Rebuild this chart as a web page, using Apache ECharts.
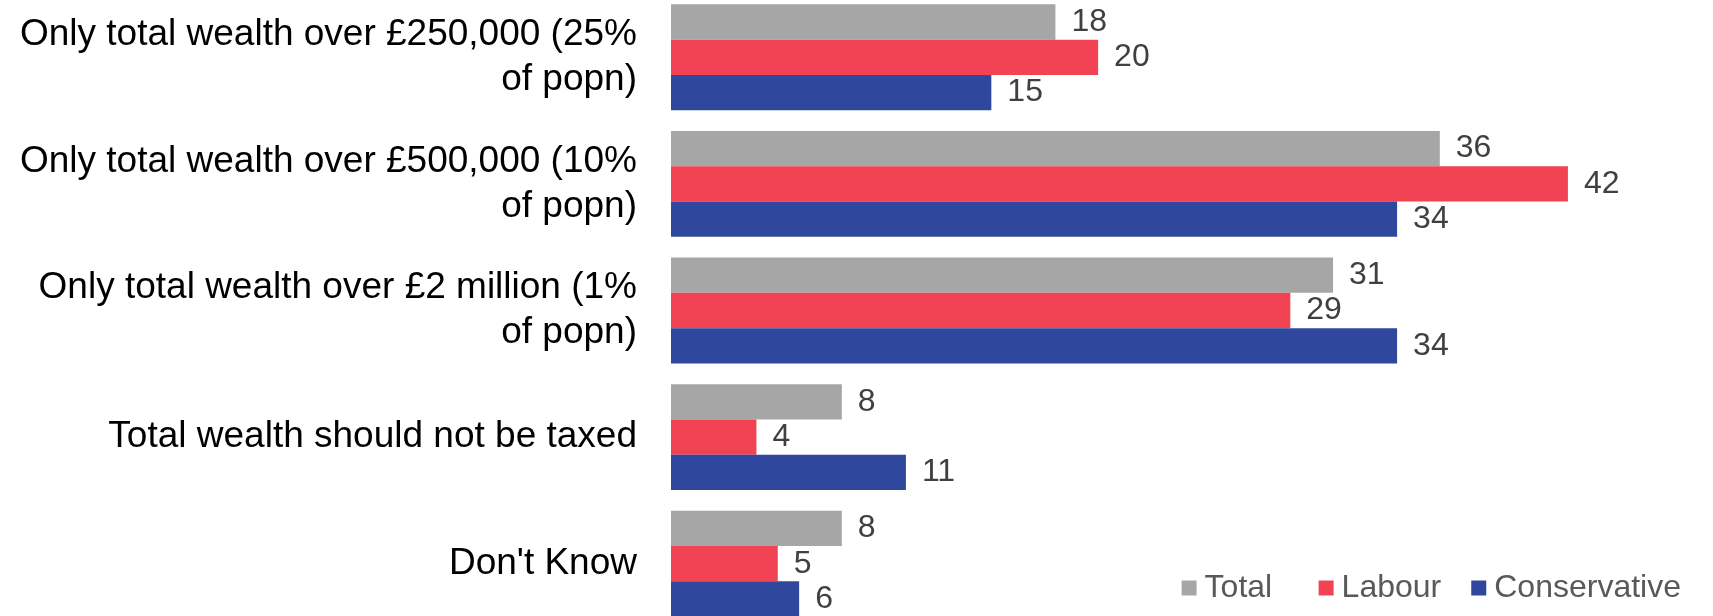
<!DOCTYPE html>
<html>
<head>
<meta charset="utf-8">
<title>Wealth tax threshold preferences</title>
<script src="https://cdn.jsdelivr.net/npm/echarts@6/dist/echarts.min.js"></script>
<style>
  html, body { margin: 0; padding: 0; background: #fff; overflow: hidden; width: 1713px; height: 616px; }
  /* the plot bands run slightly past the top edge of the page */
  #chart { position: absolute; left: 0; top: -6px; width: 1713px; height: 650px; }
</style>
</head>
<body>
<div id="chart"></div>
<script>
// Answer options, top to bottom
const categories = [
  'Only total wealth over £250,000 (25%\nof popn)',
  'Only total wealth over £500,000 (10%\nof popn)',
  'Only total wealth over £2 million (1%\nof popn)',
  'Total wealth should not be taxed',
  "Don't Know"
];

// Share of respondents (%)
const totalValues = [18, 36, 31, 8, 8];
const labourValues = [20, 42, 29, 4, 5];
const conservativeValues = [15, 34, 34, 11, 6];

const seriesNames = ['Total', 'Labour', 'Conservative'];
const seriesColors = ['#A6A6A6', '#F24355', '#2F479C'];
const seriesValues = [totalValues, labourValues, conservativeValues];

const FONT = '"Liberation Sans", Arial, sans-serif';

const chart = echarts.init(document.getElementById('chart'), null, { renderer: 'canvas' });

chart.setOption({
  animation: false,
  backgroundColor: '#ffffff',
  textStyle: { fontFamily: FONT },
  grid: { left: 671, width: 961, top: 0, height: 633, containLabel: false },
  legend: {
    right: 27,
    top: 573,
    itemWidth: 15,
    itemHeight: 15,
    itemGap: 30,
    icon: 'rect',
    data: [
      // the first entry sits in a wider slot
      { name: seriesNames[0], textStyle: { width: 84 } },
      { name: seriesNames[1] },
      { name: seriesNames[2] }
    ],
    textStyle: { fontFamily: FONT, fontSize: 32, color: '#595959', lineHeight: 32, padding: [0, 0, 0, 3] }
  },
  xAxis: {
    type: 'value',
    min: 0,
    max: 45,
    show: false,
    splitLine: { show: false }
  },
  yAxis: {
    type: 'category',
    inverse: true,
    data: categories,
    axisLine: { show: false },
    axisTick: { show: false },
    axisLabel: {
      margin: 34,
      fontFamily: FONT,
      fontSize: 37,
      lineHeight: 45,
      color: '#000000',
      align: 'right'
    }
  },
  series: seriesNames.map((name, i) => ({
    name: name,
    type: 'bar',
    data: seriesValues[i],
    barWidth: 35.3,
    barGap: '0%',
    itemStyle: { color: seriesColors[i] },
    label: {
      show: true,
      position: 'right',
      distance: 16,
      fontFamily: FONT,
      fontSize: 32,
      color: '#404040'
    }
  }))
});
</script>
</body>
</html>
